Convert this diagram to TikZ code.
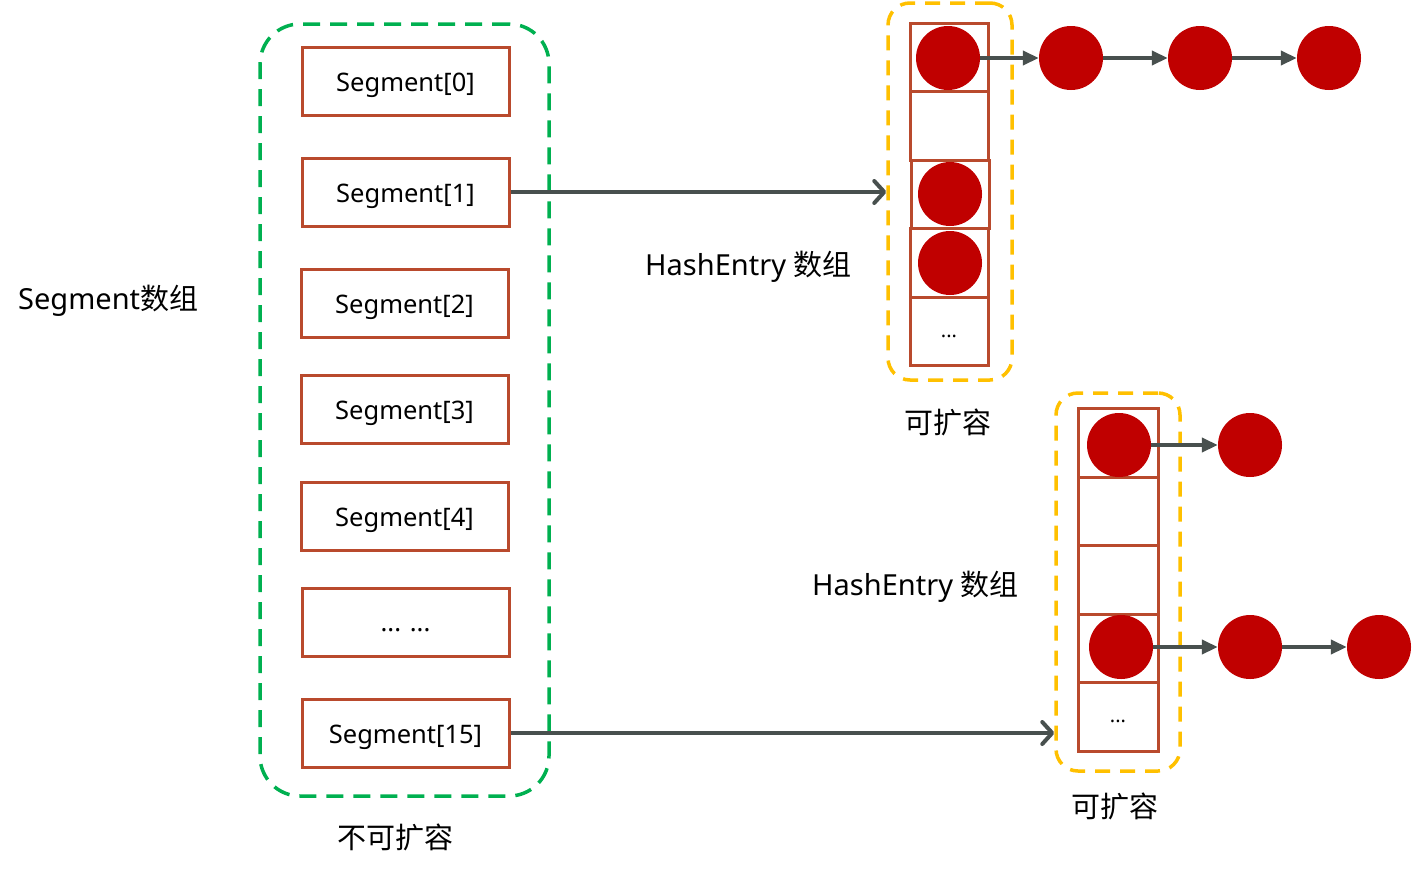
\documentclass[tikz,border=0pt]{standalone}
\usepackage{fontspec}
\setmainfont{Noto Sans}
\newfontfamily\cjk{Noto Sans CJK SC}
\usetikzlibrary{arrows.meta}
\definecolor{segred}{RGB}{185,74,45}
\definecolor{ballred}{RGB}{192,0,0}
\definecolor{ygold}{RGB}{255,192,0}
\definecolor{ggreen}{RGB}{0,176,80}
\definecolor{agray}{RGB}{72,80,78}
\newcommand{\lowdots}[1]{\raisebox{-6pt}[0pt][0pt]{#1}}
\begin{document}
\begin{tikzpicture}[x=1pt,y=-1pt,
  segbox/.style={draw=segred,line width=3pt,minimum width=207pt,minimum height=68pt,inner sep=0pt,text height=26pt,text depth=5.5pt,font=\fontsize{25.5}{28}\selectfont},
  cell/.style={draw=segred,line width=3pt,minimum width=78pt,minimum height=68.5pt,inner sep=0pt,font=\fontsize{20}{22}\selectfont},
  ball/.style={circle,fill=ballred,minimum size=64pt,inner sep=0pt},
  ybox/.style={draw=ygold,line width=3.5pt,dash pattern=on 15pt off 10pt,rounded corners=22pt,inner sep=0pt},
  gbox/.style={draw=ggreen,line width=3.5pt,dash pattern=on 17pt off 10pt,rounded corners=40pt,inner sep=0pt},
  lbl/.style={font=\fontsize{29}{32}\selectfont,inner sep=0pt},
  chain/.style={draw=agray,line width=4pt,-{Triangle[length=16pt,width=14pt]}},
  ptr/.style={draw=agray,line width=4pt,-{Straight Barb[length=10pt,width=22pt,round]}}
]
\useasboundingbox (0,0) rectangle (1412,889);
% green container
\node[gbox,minimum width=289pt,minimum height=772pt] (green) at (404.5,410) {};
% segments
\node[segbox] (s0) at (405.5,81) {Segment[0]};
\node[segbox] (s1) at (405.5,192) {Segment[1]};
\node[segbox] (s2) at (404.5,303.5) {Segment[2]};
\node[segbox] (s3) at (404.5,409.5) {Segment[3]};
\node[segbox] (s4) at (404.5,516) {Segment[4]};
\node[segbox] (s5) at (405.5,622) {\raisebox{1pt}{... ...}};
\node[segbox] (s15) at (405.5,733) {Segment[15]};
% labels
\node[lbl,anchor=west] (segarr) at (18,301) {Segment{\cjk 数组}};
\node[lbl] (nofix) at (395,837) {\cjk 不可扩容};
\node[lbl] (exp1) at (948,422) {\cjk 可扩容};
\node[lbl] (exp2) at (1115,806) {\cjk 可扩容};
\node[lbl,anchor=west] (he1) at (645,267) {HashEntry {\cjk 数组}};
\node[lbl,anchor=west] (he2) at (812,587) {HashEntry {\cjk 数组}};
% top array
\node[ybox,minimum width=124pt,minimum height=377pt] (y1) at (950,191.5) {};
\node[cell] (a0) at (949,57.25) {};
\node[cell] (a1) at (949,125.75) {};
\node[cell] (a2) at (950,194.25) {};
\node[cell] (a3) at (949,262.75) {};
\node[cell] (a4) at (949,331.25) {\lowdots{...}};
\node[ball] (b0) at (948,58) {};
\node[ball] (b2) at (950,194) {};
\node[ball] (b3) at (950,263) {};
\node[ball] (c1) at (1071,58) {};
\node[ball] (c2) at (1200,58) {};
\node[ball] (c3) at (1329,58) {};
\draw[chain] (b0) -- (c1);
\draw[chain] (c1) -- (c2);
\draw[chain] (c2) -- (c3);
% bottom array
\node[ybox,minimum width=124pt,minimum height=378pt] (y2) at (1118,582) {};
\node[cell,minimum width=80pt] (d0) at (1118,443.2) {};
\node[cell,minimum width=80pt] (d1) at (1118,511.6) {};
\node[cell,minimum width=80pt] (d2) at (1118,580) {};
\node[cell,minimum width=80pt] (d3) at (1118,648.4) {};
\node[cell,minimum width=80pt] (d4) at (1118,716.8) {\lowdots{...}};
\node[ball] (e0) at (1119,445) {};
\node[ball] (e3) at (1121,647) {};
\node[ball] (f1) at (1250,445) {};
\node[ball] (g1) at (1250,647) {};
\node[ball] (g2) at (1379,647) {};
\draw[chain] (e0) -- (f1);
\draw[chain] (e3) -- (g1);
\draw[chain] (g1) -- (g2);
% pointers
\draw[ptr] (s1.east) -- (s1.east -| y1.west);
\draw[ptr] (s15.east) -- (s15.east -| y2.west);
\end{tikzpicture}
\end{document}
